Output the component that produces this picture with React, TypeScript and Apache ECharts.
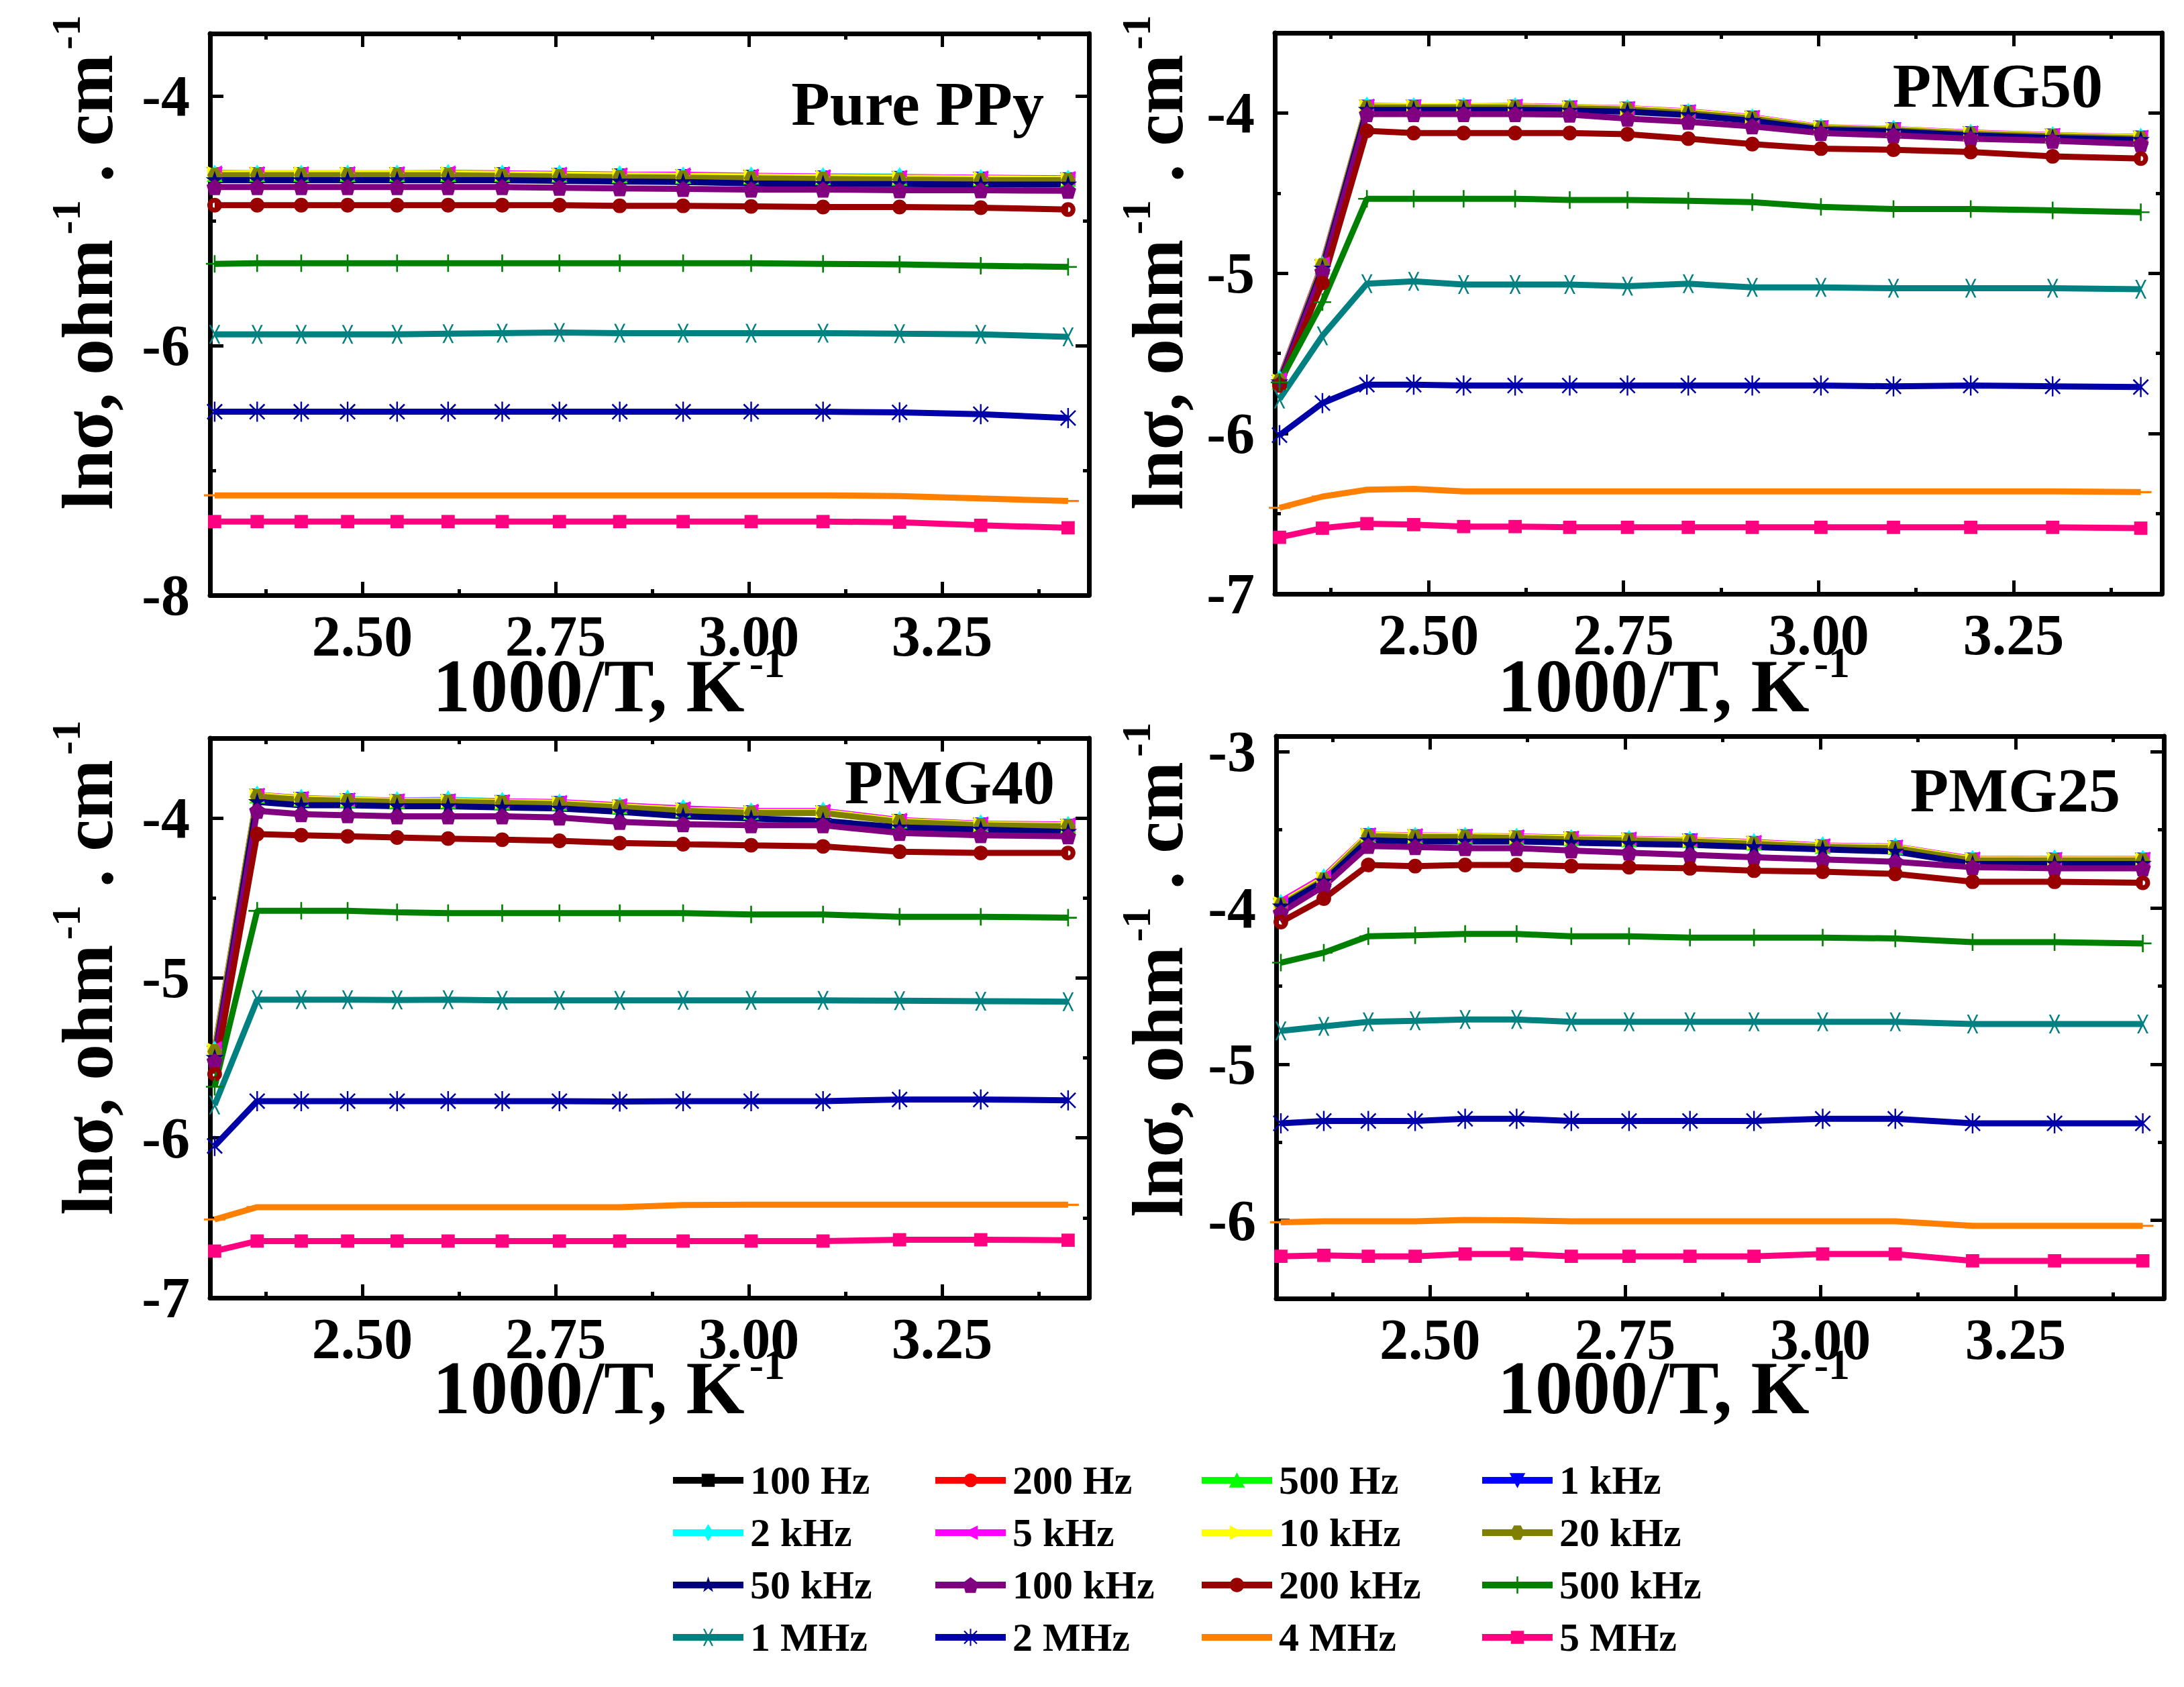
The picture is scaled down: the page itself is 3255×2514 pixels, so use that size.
import React, { useEffect, useRef } from "react";
import * as echarts from "echarts";

// x = 1000/T (K^-1)
const XS = [2.309, 2.364, 2.421, 2.481, 2.545, 2.611, 2.681, 2.755, 2.833, 2.915, 3.003, 3.096, 3.195, 3.3, 3.413];
const X_MIN = 2.303;
const X_MAX = 3.44;
const X_MAJOR = [2.5, 2.75, 3.0, 3.25];
const X_MINOR = [2.375, 2.625, 2.875, 3.125, 3.375];

// ---------- Pure PPy ----------
const PPY_LOWF = [-4.63, -4.63, -4.63, -4.63, -4.63, -4.63, -4.63, -4.635, -4.64, -4.645, -4.65, -4.655, -4.66, -4.665, -4.67];
const PPY_CYAN = [-4.625, -4.625, -4.625, -4.625, -4.625, -4.62, -4.625, -4.625, -4.63, -4.64, -4.64, -4.645, -4.645, -4.66, -4.665];
const PPY_MAGENTA = [-4.615, -4.62, -4.62, -4.62, -4.62, -4.615, -4.62, -4.625, -4.63, -4.63, -4.64, -4.645, -4.65, -4.655, -4.66];
const PPY_YELLOW = [-4.62, -4.62, -4.62, -4.62, -4.62, -4.62, -4.625, -4.63, -4.635, -4.64, -4.645, -4.65, -4.655, -4.66, -4.665];
const PPY_OLIVE = [-4.635, -4.635, -4.635, -4.635, -4.635, -4.635, -4.64, -4.645, -4.65, -4.655, -4.66, -4.665, -4.67, -4.675, -4.675];
const PPY_NAVY = [-4.675, -4.675, -4.675, -4.675, -4.675, -4.675, -4.675, -4.68, -4.685, -4.69, -4.7, -4.705, -4.705, -4.71, -4.71];
const PPY_PURPLE = [-4.73, -4.73, -4.73, -4.73, -4.73, -4.73, -4.73, -4.735, -4.74, -4.745, -4.75, -4.75, -4.755, -4.755, -4.76];
const PPY_WINE = [-4.875, -4.875, -4.875, -4.875, -4.875, -4.875, -4.875, -4.875, -4.88, -4.88, -4.885, -4.89, -4.89, -4.895, -4.91];
const PPY_GREEN = [-5.345, -5.34, -5.34, -5.34, -5.34, -5.34, -5.34, -5.34, -5.34, -5.34, -5.34, -5.345, -5.35, -5.36, -5.37];
const PPY_TEAL = [-5.91, -5.91, -5.91, -5.91, -5.91, -5.905, -5.9, -5.895, -5.9, -5.9, -5.9, -5.9, -5.905, -5.91, -5.93];
const PPY_BLUE2 = [-6.53, -6.53, -6.53, -6.53, -6.53, -6.53, -6.53, -6.53, -6.53, -6.53, -6.53, -6.53, -6.535, -6.55, -6.58];
const PPY_ORANGE = [-7.2, -7.2, -7.2, -7.2, -7.2, -7.2, -7.2, -7.2, -7.2, -7.2, -7.2, -7.2, -7.205, -7.225, -7.245];
const PPY_PINK = [-7.41, -7.41, -7.41, -7.41, -7.41, -7.41, -7.41, -7.41, -7.41, -7.41, -7.41, -7.41, -7.415, -7.44, -7.46];

// ---------- PMG50 ----------
const P50_LOWF = [-5.68, -4.96, -3.962, -3.962, -3.962, -3.962, -3.968, -3.975, -3.996, -4.03, -4.092, -4.104, -4.128, -4.142, -4.155];
const P50_CYAN = [-5.66, -4.95, -3.955, -3.96, -3.96, -3.96, -3.966, -3.972, -3.995, -4.03, -4.09, -4.1, -4.125, -4.14, -4.15];
const P50_MAGENTA = [-5.66, -4.94, -3.955, -3.958, -3.958, -3.955, -3.963, -3.97, -3.99, -4.025, -4.088, -4.1, -4.122, -4.137, -4.15];
const P50_YELLOW = [-5.67, -4.95, -3.958, -3.958, -3.958, -3.958, -3.965, -3.972, -3.993, -4.028, -4.09, -4.101, -4.125, -4.139, -4.152];
const P50_OLIVE = [-5.67, -4.95, -3.965, -3.965, -3.965, -3.965, -3.97, -3.978, -4.0, -4.035, -4.095, -4.106, -4.13, -4.145, -4.158];
const P50_NAVY = [-5.68, -4.97, -3.98, -3.98, -3.98, -3.98, -3.985, -3.992, -4.013, -4.048, -4.105, -4.115, -4.14, -4.155, -4.168];
const P50_PURPLE = [-5.69, -4.99, -4.007, -4.007, -4.007, -4.007, -4.01, -4.035, -4.055, -4.083, -4.125, -4.14, -4.16, -4.173, -4.194];
const P50_WINE = [-5.7, -5.06, -4.111, -4.125, -4.125, -4.125, -4.125, -4.132, -4.16, -4.194, -4.222, -4.229, -4.243, -4.27, -4.284];
const P50_GREEN = [-5.68, -5.18, -4.535, -4.535, -4.535, -4.535, -4.542, -4.542, -4.548, -4.556, -4.585, -4.599, -4.599, -4.607, -4.619];
const P50_TEAL = [-5.785, -5.39, -5.065, -5.05, -5.07, -5.07, -5.07, -5.08, -5.065, -5.088, -5.088, -5.093, -5.093, -5.093, -5.099];
const P50_BLUE2 = [-6.01, -5.81, -5.695, -5.695, -5.7, -5.7, -5.7, -5.7, -5.7, -5.7, -5.7, -5.705, -5.7, -5.705, -5.71];
const P50_ORANGE = [-6.463, -6.393, -6.35, -6.345, -6.36, -6.36, -6.36, -6.36, -6.36, -6.36, -6.36, -6.36, -6.36, -6.36, -6.365];
const P50_PINK = [-6.647, -6.59, -6.562, -6.568, -6.58, -6.58, -6.585, -6.585, -6.585, -6.585, -6.585, -6.585, -6.585, -6.585, -6.59];

// ---------- PMG40 ----------
const P40_LOWF = [-5.47, -3.862, -3.882, -3.89, -3.896, -3.896, -3.902, -3.908, -3.93, -3.95, -3.965, -3.965, -4.02, -4.042, -4.05];
const P40_CYAN = [-5.45, -3.855, -3.875, -3.88, -3.89, -3.885, -3.895, -3.905, -3.925, -3.94, -3.96, -3.955, -4.015, -4.035, -4.045];
const P40_MAGENTA = [-5.44, -3.855, -3.875, -3.885, -3.89, -3.89, -3.895, -3.9, -3.92, -3.94, -3.955, -3.955, -4.012, -4.035, -4.04];
const P40_YELLOW = [-5.45, -3.857, -3.878, -3.885, -3.892, -3.892, -3.899, -3.905, -3.926, -3.947, -3.961, -3.961, -4.017, -4.038, -4.045];
const P40_OLIVE = [-5.46, -3.865, -3.885, -3.892, -3.899, -3.899, -3.905, -3.912, -3.933, -3.954, -3.968, -3.968, -4.024, -4.045, -4.052];
const P40_NAVY = [-5.5, -3.899, -3.92, -3.92, -3.926, -3.926, -3.933, -3.94, -3.961, -3.989, -4.003, -4.017, -4.058, -4.072, -4.086];
const P40_PURPLE = [-5.52, -3.954, -3.975, -3.982, -3.989, -3.989, -3.989, -3.996, -4.024, -4.038, -4.045, -4.045, -4.093, -4.107, -4.114];
const P40_WINE = [-5.6, -4.1, -4.107, -4.114, -4.121, -4.128, -4.135, -4.142, -4.156, -4.163, -4.17, -4.177, -4.21, -4.218, -4.218];
const P40_GREEN = [-5.68, -4.58, -4.58, -4.58, -4.589, -4.594, -4.594, -4.594, -4.594, -4.594, -4.603, -4.603, -4.617, -4.617, -4.623];
const P40_TEAL = [-5.794, -5.136, -5.136, -5.136, -5.138, -5.136, -5.14, -5.14, -5.14, -5.14, -5.14, -5.14, -5.142, -5.145, -5.148];
const P40_BLUE2 = [-6.05, -5.77, -5.77, -5.77, -5.77, -5.77, -5.77, -5.77, -5.772, -5.77, -5.77, -5.77, -5.76, -5.76, -5.765];
const P40_ORANGE = [-6.51, -6.433, -6.433, -6.433, -6.433, -6.433, -6.433, -6.433, -6.433, -6.42, -6.418, -6.418, -6.418, -6.418, -6.418];
const P40_PINK = [-6.708, -6.645, -6.645, -6.645, -6.645, -6.645, -6.645, -6.645, -6.645, -6.645, -6.645, -6.645, -6.637, -6.637, -6.64];

// ---------- PMG25 ----------
const P25_LOWF = [-3.985, -3.82, -3.537, -3.543, -3.543, -3.55, -3.557, -3.564, -3.57, -3.586, -3.607, -3.614, -3.692, -3.692, -3.692];
const P25_CYAN = [-3.97, -3.805, -3.535, -3.54, -3.54, -3.545, -3.555, -3.56, -3.566, -3.58, -3.6, -3.608, -3.688, -3.685, -3.688];
const P25_MAGENTA = [-3.96, -3.8, -3.53, -3.535, -3.538, -3.542, -3.55, -3.557, -3.565, -3.578, -3.6, -3.607, -3.685, -3.687, -3.686];
const P25_YELLOW = [-3.97, -3.81, -3.531, -3.538, -3.538, -3.545, -3.553, -3.56, -3.567, -3.582, -3.603, -3.61, -3.689, -3.689, -3.689];
const P25_OLIVE = [-3.98, -3.82, -3.54, -3.546, -3.546, -3.552, -3.56, -3.567, -3.574, -3.589, -3.61, -3.617, -3.696, -3.696, -3.696];
const P25_NAVY = [-3.99, -3.83, -3.567, -3.574, -3.574, -3.574, -3.582, -3.589, -3.596, -3.61, -3.625, -3.639, -3.718, -3.718, -3.718];
const P25_PURPLE = [-4.03, -3.86, -3.603, -3.61, -3.617, -3.617, -3.632, -3.646, -3.66, -3.675, -3.689, -3.704, -3.739, -3.746, -3.746];
const P25_WINE = [-4.09, -3.94, -3.725, -3.732, -3.725, -3.725, -3.732, -3.739, -3.746, -3.761, -3.768, -3.782, -3.832, -3.832, -3.839];
const P25_GREEN = [-4.35, -4.286, -4.181, -4.175, -4.166, -4.166, -4.181, -4.181, -4.19, -4.19, -4.19, -4.195, -4.219, -4.219, -4.227];
const P25_TEAL = [-4.787, -4.758, -4.729, -4.723, -4.714, -4.714, -4.729, -4.729, -4.729, -4.729, -4.729, -4.729, -4.743, -4.743, -4.743];
const P25_BLUE2 = [-5.379, -5.364, -5.364, -5.364, -5.35, -5.35, -5.364, -5.364, -5.364, -5.364, -5.35, -5.35, -5.379, -5.379, -5.379];
const P25_ORANGE = [-6.012, -6.006, -6.006, -6.006, -5.997, -6.0, -6.006, -6.006, -6.006, -6.006, -6.006, -6.006, -6.035, -6.035, -6.035];
const P25_PINK = [-6.23, -6.224, -6.23, -6.23, -6.215, -6.215, -6.23, -6.23, -6.23, -6.23, -6.215, -6.215, -6.259, -6.259, -6.259];

const FREQS = ["100 Hz", "200 Hz", "500 Hz", "1 kHz", "2 kHz", "5 kHz", "10 kHz", "20 kHz", "50 kHz", "100 kHz", "200 kHz", "500 kHz", "1 MHz", "2 MHz", "4 MHz", "5 MHz"];
const COLORS = ["#000000", "#ff0000", "#00ff00", "#0000ff", "#00ffff", "#ff00ff", "#ffff00", "#808000", "#000080", "#800080", "#990000", "#008000", "#008080", "#0000a8", "#ff8000", "#ff0080"];

const PANEL_TITLES = ["Pure PPy", "PMG50", "PMG40", "PMG25"];
const Y_RANGES = [[-8, -3.5], [-7, -3.5], [-7, -3.5], [-6.5, -2.9]];
const Y_MAJOR = [[-8, -6, -4], [-7, -6, -5, -4], [-7, -6, -5, -4], [-6, -5, -4, -3]];
const Y_MINOR = [[-7, -5], [-6.5, -5.5, -4.5], [-6.5, -5.5, -4.5], [-5.5, -4.5, -3.5]];
const PANEL_DATA = [
  [PPY_LOWF, PPY_LOWF, PPY_LOWF, PPY_LOWF, PPY_CYAN, PPY_MAGENTA, PPY_YELLOW, PPY_OLIVE, PPY_NAVY, PPY_PURPLE, PPY_WINE, PPY_GREEN, PPY_TEAL, PPY_BLUE2, PPY_ORANGE, PPY_PINK],
  [P50_LOWF, P50_LOWF, P50_LOWF, P50_LOWF, P50_CYAN, P50_MAGENTA, P50_YELLOW, P50_OLIVE, P50_NAVY, P50_PURPLE, P50_WINE, P50_GREEN, P50_TEAL, P50_BLUE2, P50_ORANGE, P50_PINK],
  [P40_LOWF, P40_LOWF, P40_LOWF, P40_LOWF, P40_CYAN, P40_MAGENTA, P40_YELLOW, P40_OLIVE, P40_NAVY, P40_PURPLE, P40_WINE, P40_GREEN, P40_TEAL, P40_BLUE2, P40_ORANGE, P40_PINK],
  [P25_LOWF, P25_LOWF, P25_LOWF, P25_LOWF, P25_CYAN, P25_MAGENTA, P25_YELLOW, P25_OLIVE, P25_NAVY, P25_PURPLE, P25_WINE, P25_GREEN, P25_TEAL, P25_BLUE2, P25_ORANGE, P25_PINK],
];

const LEGEND_COLS = [
  ["100 Hz", "2 kHz", "50 kHz", "1 MHz"],
  ["200 Hz", "5 kHz", "100 kHz", "2 MHz"],
  ["500 Hz", "10 kHz", "200 kHz", "4 MHz"],
  ["1 kHz", "20 kHz", "500 kHz", "5 MHz"],
];

// layout (pixels)
const LAYOUT = [
  { left: 313, top: 50, width: 1310, height: 837, tx: 1556, ty: 154, xtx: 645, xty: 1022, ytx: 131, yty: 391 },
  { left: 1900, top: 49, width: 1322, height: 836, tx: 3134, ty: 127, xtx: 2232, xty: 1022, ytx: 1726, yty: 391 },
  { left: 313, top: 1100, width: 1310, height: 834, tx: 1572, ty: 1165, xtx: 645, xty: 2068, ytx: 131, yty: 1442 },
  { left: 1902, top: 1097, width: 1323, height: 838, tx: 3160, ty: 1177, xtx: 2232, xty: 2068, ytx: 1726, yty: 1445 },
];
const LEGEND_X = [998, 1389, 1786, 2204];
const LEGEND_TOP = 2176;

// marker shapes (all padded to a 100x100 box so that series and legend look alike)
const BOX = "M0,0 M100,100 ";
const SQUARE = "path://" + BOX + "M12,12L88,12L88,88L12,88Z";
const DOT = "path://" + BOX + "M50,10A40,40,0,1,1,50,90A40,40,0,1,1,50,10Z";
const TRI_UP = "path://" + BOX + "M50,4L96,92L4,92Z";
const TRI_DOWN = "path://" + BOX + "M4,8L96,8L50,96Z";
const DIAMOND = "path://" + BOX + "M50,0L82,50L50,100L18,50Z";
const TRI_LEFT = "path://" + BOX + "M92,8L92,92L8,50Z";
const TRI_RIGHT = "path://" + BOX + "M8,8L8,92L92,50Z";
const HEXAGON = "path://" + BOX + "M30,8L70,8L92,50L70,92L30,92L8,50Z";
const STAR = "path://" + BOX + "M50,0L61,35L98,35L68,57L79,91L50,70L21,91L32,57L2,35L39,35Z";
const PENTAGON = "path://" + BOX + "M50,4L96,38L79,96L21,96L4,38Z";
const RING = "path://" + BOX + "M50,8A42,42,0,1,1,50,92A42,42,0,1,1,50,8Z M50,36A14,14,0,1,0,50,64A14,14,0,1,0,50,36Z";
const PLUS = "path://" + BOX + "M45,0L55,0L55,45L100,45L100,55L55,55L55,100L45,100L45,55L0,55L0,45L45,45Z";
const CROSS = "path://" + BOX + "M20,0L30,0L80,100L70,100Z M70,0L80,0L30,100L20,100Z";
const ASTERISK = "path://" + BOX + "M46,0L54,0L54,100L46,100Z M10,16L16,10L90,84L84,90Z M84,10L90,16L16,90L10,84Z";
const DASH = "path://" + BOX + "M0,45L100,45L100,55L0,55Z";

const SYMBOLS = [SQUARE, DOT, TRI_UP, TRI_DOWN, DIAMOND, TRI_LEFT, TRI_RIGHT, HEXAGON, STAR, PENTAGON, RING, PLUS, CROSS, ASTERISK, DASH, SQUARE];
const SYMBOL_SIZES = [24, 24, 26, 26, 28, 26, 26, 26, 28, 26, 26, 26, 28, 30, 32, 26];

const FONT = '"Liberation Serif", "Times New Roman", serif';

const makeRich = (size: number, supSize: number) => ({
  m: { fontFamily: FONT, fontWeight: "bold", fontSize: size, lineHeight: Math.round(size * 1.2), fill: "#000" },
  s: { fontFamily: FONT, fontWeight: "bold", fontSize: supSize, lineHeight: supSize, verticalAlign: "top", fill: "#000", padding: [0, 0, 0, 7] },
});
const RICH_X = makeRich(112, 64);
const RICH_Y = makeRich(107, 62);

function buildOption() {
  const grid: any[] = [];
  const xAxis: any[] = [];
  const yAxis: any[] = [];
  const series: any[] = [];
  const graphic: any[] = [];
  const labelStyle = { fontFamily: FONT, fontWeight: "bold", fontSize: 86, color: "#000" };

  LAYOUT.forEach((L, p) => {
    grid.push({ left: L.left, top: L.top, width: L.width, height: L.height });
    const frameLine = { show: true, onZero: false, lineStyle: { color: "#000", width: 7 } };
    const baseX = { type: "value", gridIndex: p, min: X_MIN, max: X_MAX, splitLine: { show: false } };
    const [ymin, ymax] = Y_RANGES[p];
    const baseY = { type: "value", gridIndex: p, min: ymin, max: ymax, splitLine: { show: false } };
    const majorTick = (vals: number[]) => ({ show: true, inside: true, length: 20, lineStyle: { width: 5, color: "#000" }, customValues: vals });
    const minorTick = (vals: number[]) => ({ show: true, inside: true, length: 9, lineStyle: { width: 5, color: "#000" }, customValues: vals });
    const noLine = { show: false, onZero: false };

    xAxis.push({
      ...baseX, position: "bottom", axisLine: frameLine, axisTick: majorTick(X_MAJOR),
      axisLabel: { show: true, customValues: X_MAJOR, margin: 18, formatter: (v: number) => v.toFixed(2), ...labelStyle },
    });
    xAxis.push({ ...baseX, position: "bottom", axisLine: noLine, axisTick: minorTick(X_MINOR), axisLabel: { show: false } });
    xAxis.push({ ...baseX, position: "top", axisLine: frameLine, axisTick: majorTick(X_MAJOR), axisLabel: { show: false } });
    xAxis.push({ ...baseX, position: "top", axisLine: noLine, axisTick: minorTick(X_MINOR), axisLabel: { show: false } });

    yAxis.push({
      ...baseY, position: "left", axisLine: frameLine, axisTick: majorTick(Y_MAJOR[p]),
      axisLabel: { show: true, customValues: Y_MAJOR[p], margin: 30, formatter: (v: number) => String(v), ...labelStyle },
    });
    yAxis.push({ ...baseY, position: "left", axisLine: noLine, axisTick: minorTick(Y_MINOR[p]), axisLabel: { show: false } });
    yAxis.push({ ...baseY, position: "right", axisLine: frameLine, axisTick: majorTick(Y_MAJOR[p]), axisLabel: { show: false } });
    yAxis.push({ ...baseY, position: "right", axisLine: noLine, axisTick: minorTick(Y_MINOR[p]), axisLabel: { show: false } });

    FREQS.forEach((name, k) => {
      const arr = PANEL_DATA[p][k];
      series.push({
        type: "line",
        name,
        xAxisIndex: p * 4,
        yAxisIndex: p * 4,
        data: XS.map((x, i) => [x, arr[i]]),
        symbol: SYMBOLS[k],
        symbolSize: SYMBOL_SIZES[k],
        showSymbol: true,
        lineStyle: { color: COLORS[k], width: 9 },
        itemStyle: { color: COLORS[k] },
        emphasis: { disabled: true },
        z: 3,
      });
    });

    graphic.push({
      type: "text", x: L.tx, y: L.ty,
      style: { text: PANEL_TITLES[p], fontFamily: FONT, fontWeight: "bold", fontSize: 94, fill: "#000", align: "right", verticalAlign: "middle", textAlign: "right", textVerticalAlign: "middle" },
    });
    graphic.push({
      type: "text", x: L.xtx, y: L.xty,
      style: { text: "{m|1000/T, K}{s|-1}", rich: RICH_X, fill: "#000", fontFamily: FONT, fontWeight: "bold", fontSize: 112, align: "left", verticalAlign: "middle", textAlign: "left", textVerticalAlign: "middle" },
    });
    graphic.push({
      type: "text", x: L.ytx, y: L.yty, rotation: Math.PI / 2,
      style: { text: "{m|lnσ, ohm}{s|-1}{m| . cm}{s|-1}", rich: RICH_Y, fill: "#000", fontFamily: FONT, fontWeight: "bold", fontSize: 107, align: "center", verticalAlign: "middle", textAlign: "center", textVerticalAlign: "middle" },
    });
  });

  const legend = LEGEND_COLS.map((col, c) => ({
    orient: "vertical",
    left: LEGEND_X[c],
    top: LEGEND_TOP,
    padding: 0,
    itemWidth: 105,
    itemHeight: 32,
    itemGap: 18,
    selectedMode: false,
    data: col,
    lineStyle: { width: 10 },
    textStyle: { fontFamily: FONT, fontWeight: "bold", fontSize: 60, color: "#000", padding: [0, 0, 0, 5] },
  }));

  return {
    animation: false,
    backgroundColor: "#ffffff",
    textStyle: { fontFamily: FONT },
    grid,
    xAxis,
    yAxis,
    legend,
    series,
    graphic,
  };
}

export default function App() {
  const ref = useRef<HTMLDivElement>(null);
  useEffect(() => {
    document.body.style.margin = "0";
    if (!ref.current) return;
    const chart = echarts.init(ref.current, undefined, { renderer: "svg" });
    chart.setOption(buildOption() as any);
    return () => chart.dispose();
  }, []);
  return <div ref={ref} style={{ width: 3255, height: 2514, position: "absolute", left: 0, top: 0, background: "#fff" }} />;
}
